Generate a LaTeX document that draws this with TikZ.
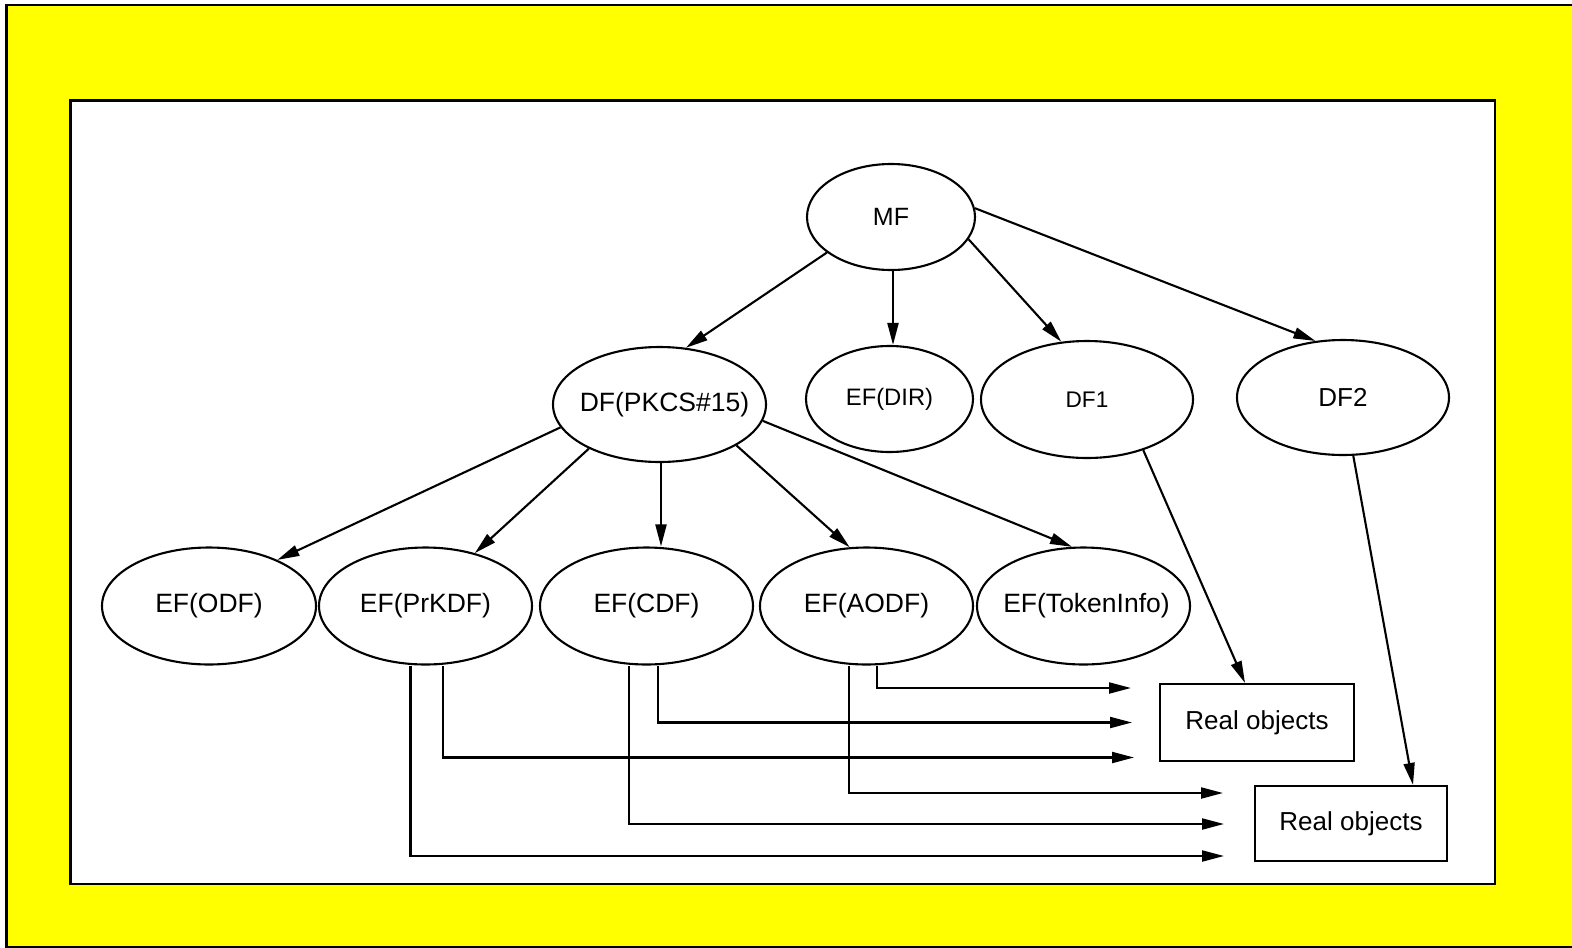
\documentclass[tikz,border=0pt]{standalone}
\usepackage{fontspec}
\setmainfont{Liberation Sans}
\usetikzlibrary{shapes.geometric,arrows.meta}
\newcommand\fsz[1]{\fontsize{#1pt}{#1pt}\selectfont}
\definecolor{frameyellow}{RGB}{255,255,0}
\tikzset{
  ell/.style={ellipse, draw, line width=2.1pt, inner sep=0pt,
              minimum width=213pt, minimum height=117pt},
  lbl/.style={inner sep=0pt, font=\fsz{26.5}},
  objbox/.style={rectangle, draw, line width=2.1pt, inner sep=0pt, font=\fsz{26}},
  arr/.style={line width=2.1pt, -{Triangle[length=22pt,width=11pt]}},
}
\begin{document}
\begin{tikzpicture}[x=1pt,y=-1pt]
\useasboundingbox (0,0) rectangle (1572,948);
\clip (0,0) rectangle (1572,948);
% yellow frame and white panel
\draw[line width=2.5pt, fill=frameyellow] (6.5,5) rectangle (1600,947.5);
\draw[line width=2.5pt, fill=white] (70.5,100.5) rectangle (1495,884);

% file nodes (ellipse sizes are fixed, labels sit at the centre)
\node[ell, minimum width=168pt, minimum height=106pt,
      label={[lbl, font=\fsz{25}]center:MF}] (mf) at (891,217) {};
\node[ell, minimum height=115pt,
      label={[lbl, xshift=5pt]center:DF(PKCS\#15)}] (pk) at (659.5,404.5) {};
\node[ell, minimum width=167pt, minimum height=106pt,
      label={[lbl, font=\fsz{23.8}]center:EF(DIR)}] (efdir) at (889.5,399) {};
\node[ell, minimum width=212pt,
      label={[lbl, font=\fsz{22.6}]center:DF1}] (df1) at (1087,399.5) {};
\node[ell, minimum width=212pt, minimum height=115pt,
      label={[lbl, font=\fsz{26}]center:DF2}] (df2) at (1343,397.5) {};
\node[ell, minimum width=214pt, label={[lbl]center:EF(ODF)}] (odf) at (209,606) {};
\node[ell, label={[lbl]center:EF(PrKDF)}] (prk) at (425.5,606) {};
\node[ell, label={[lbl]center:EF(CDF)}] (cdf) at (646.5,606) {};
\node[ell, label={[lbl]center:EF(AODF)}] (aodf) at (866.5,606) {};
\node[ell, label={[lbl, xshift=3pt]center:EF(TokenInfo)}] (tok) at (1083.5,606) {};

% object boxes
\node[objbox, minimum width=194pt, minimum height=77pt] (ro1) at (1257,722.5) {Real objects};
\node[objbox, minimum width=192pt, minimum height=75pt] (ro2) at (1351,823.5) {Real objects};

% tree edges
\draw[arr] (mf.209.6) -- (pk.65.3);
\draw[arr] ([xshift=2pt]mf.south) -- ([xshift=2pt]mf.south |- efdir.north);
\draw[arr] (mf.344.7) -- (df1.114.3);
\draw[arr] (mf.6.1) -- (df2.116);
\draw[arr] (pk.193) -- (odf.34.3);
\draw[arr] (pk.212) -- (prk.47.4);
\draw[arr] ([xshift=1.5pt]pk.south) -- ([xshift=1.5pt]pk.south |- cdf.north);
\draw[arr] (pk.332.1) -- (aodf.106);
\draw[arr] (pk.351.6) -- (tok.101);
\draw[arr] (df1.318.3) -- ([xshift=-12pt]ro1.north);
\draw[arr] (df2.280.8) -- ([xshift=62pt]ro2.north);

% references to real objects
\coordinate (e1) at (1131,688);
\coordinate (e2) at (1132,722.5);
\coordinate (e3) at (1134,757.5);
\coordinate (e4) at (1223,793);
\coordinate (e5) at (1224,824);
\coordinate (e6) at (1224,856);
\draw[arr] ([xshift=10.5pt]aodf.south) |- (e1);
\draw[arr] ([xshift=11.5pt]cdf.south) |- (e2);
\draw[arr] ([xshift=17.5pt]prk.south) |- (e3);
\draw[arr] ([xshift=-17.5pt]aodf.south) |- (e4);
\draw[arr] ([xshift=-17.5pt]cdf.south) |- (e5);
\draw[arr] ([xshift=-15pt]prk.south) |- (e6);
\end{tikzpicture}
\end{document}
